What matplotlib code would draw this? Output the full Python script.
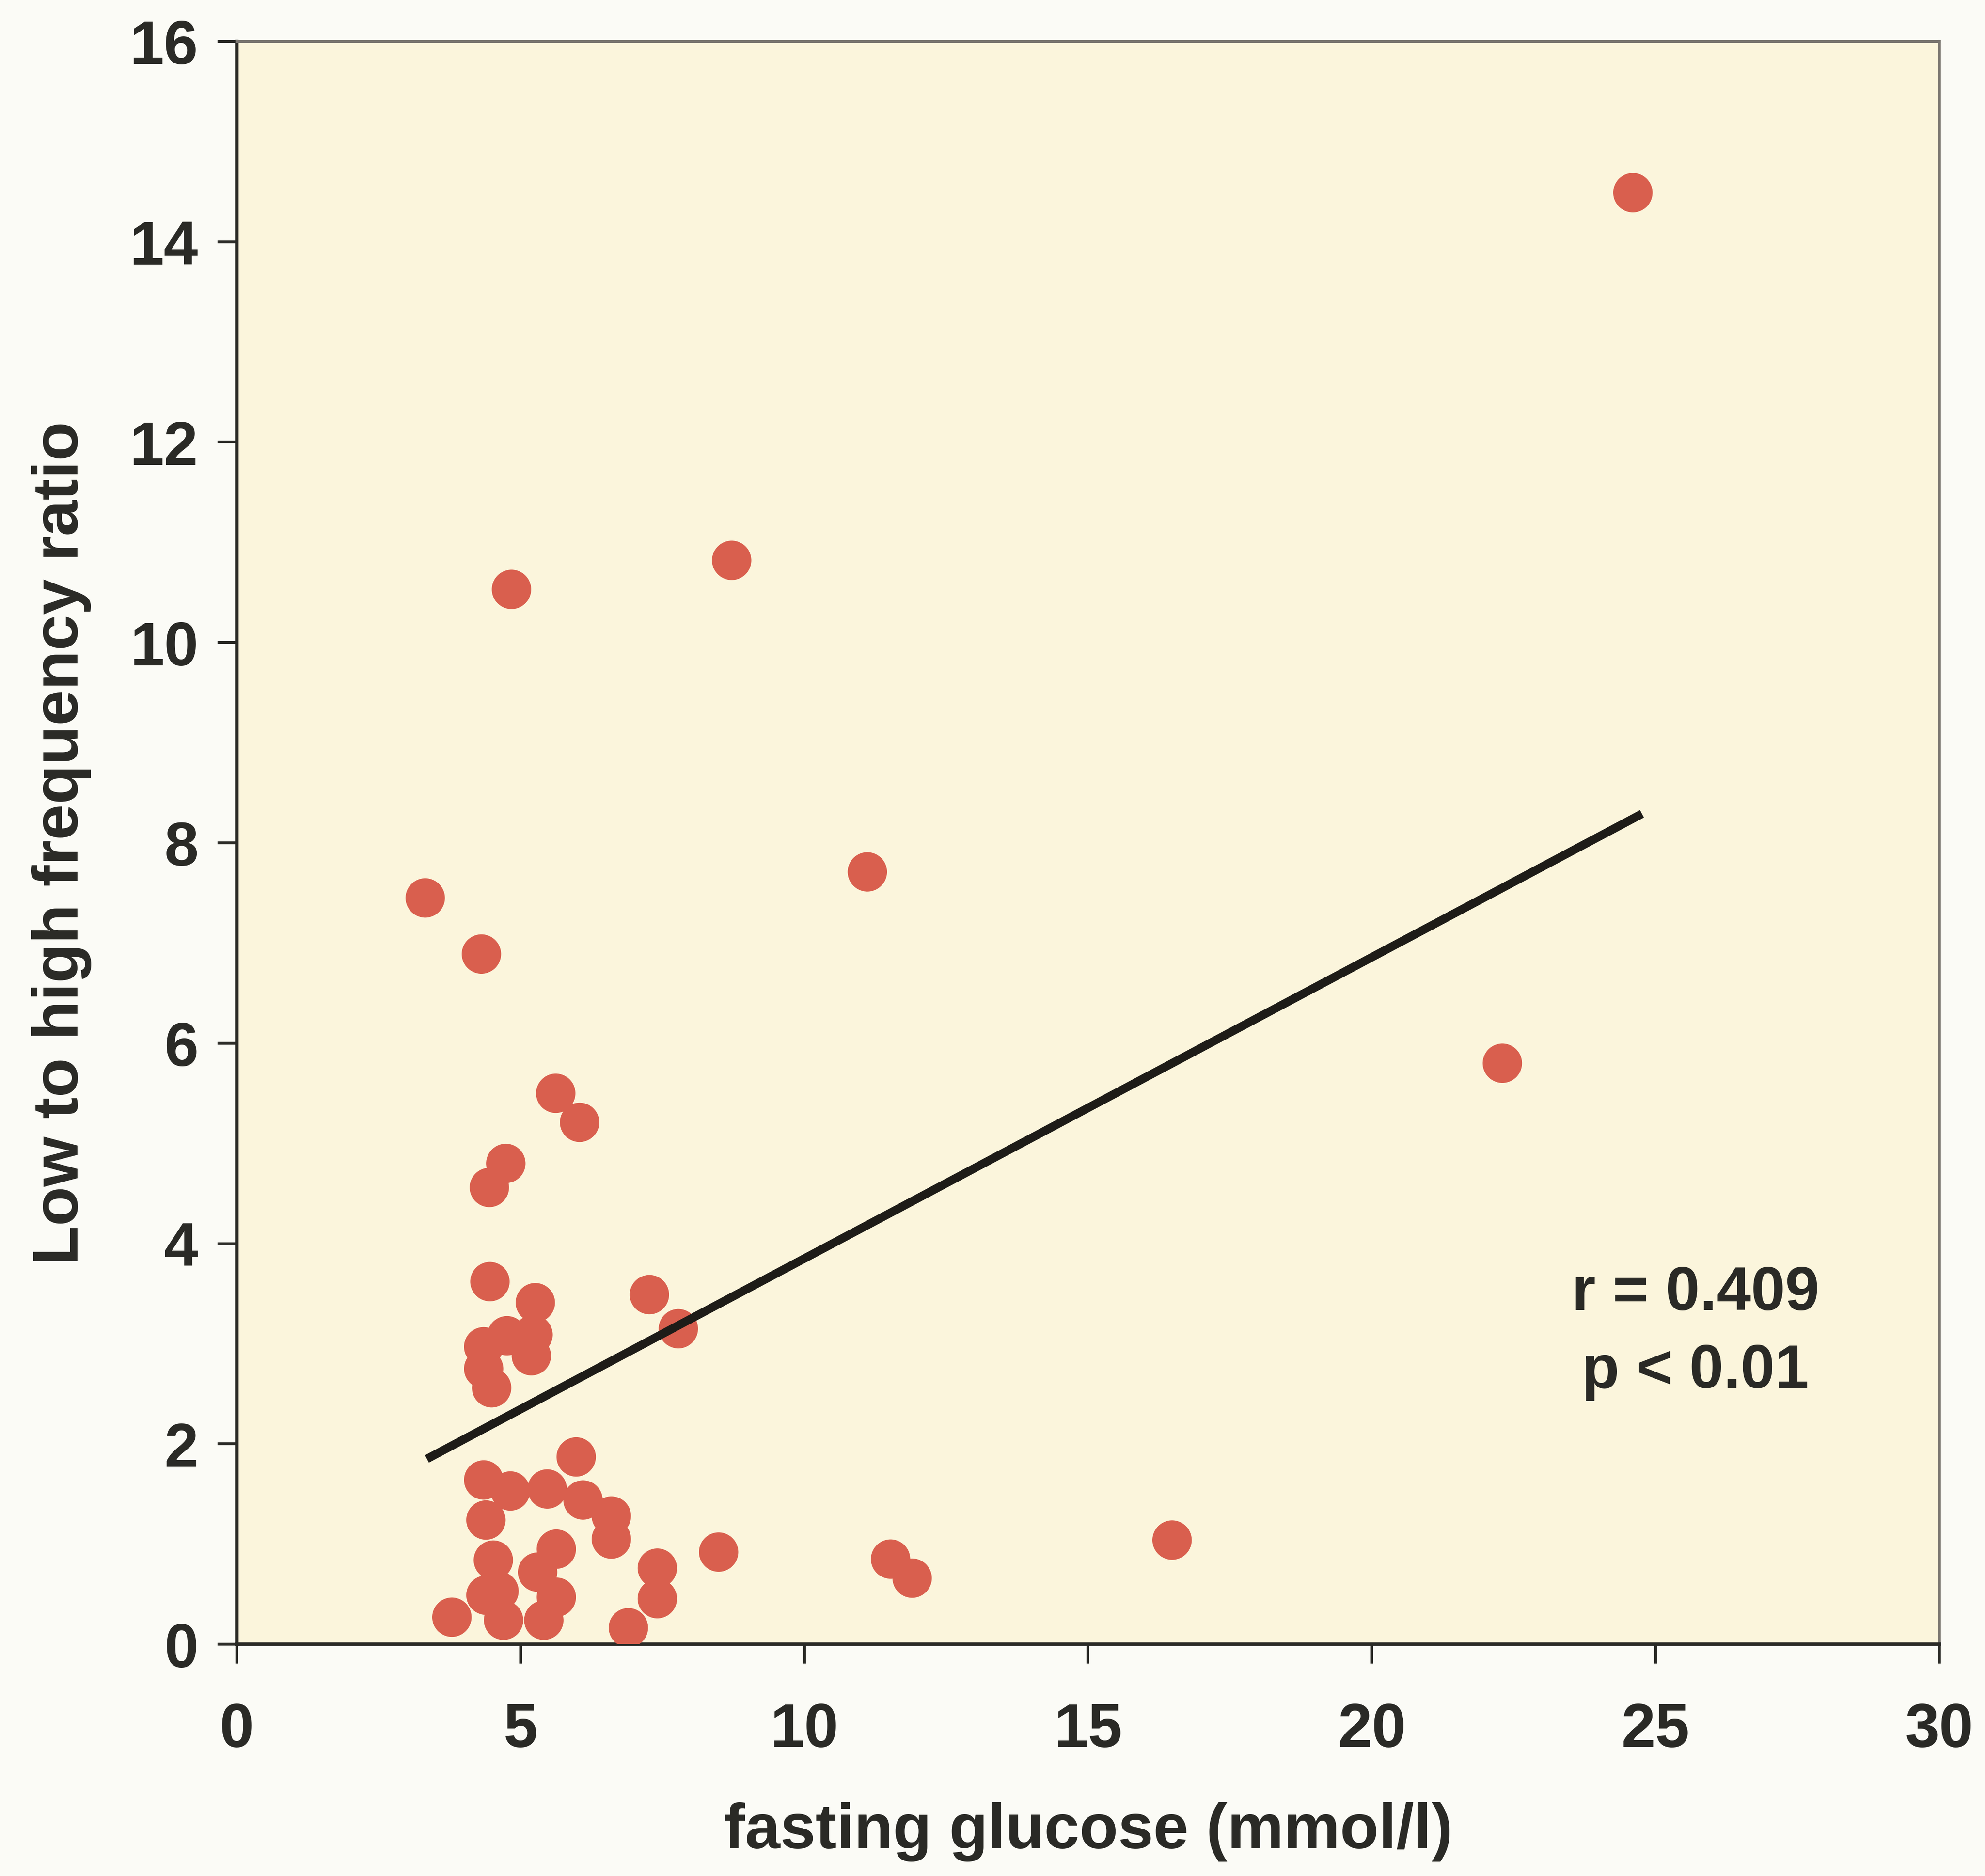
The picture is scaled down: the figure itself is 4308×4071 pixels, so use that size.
import matplotlib
matplotlib.use("Agg")
import matplotlib.pyplot as plt

# fasting glucose (mmol/l) vs LF/HF ratio
glucose = [
    24.6, 4.84, 8.72, 11.11, 3.32, 4.31, 22.3, 16.48, 11.52, 11.9,
    5.62, 6.04, 4.74, 4.45, 4.46, 5.26, 7.27, 7.78,
    4.35, 4.35, 4.49, 4.76, 5.22, 5.19,
    5.98, 4.35, 4.82, 4.39, 5.47, 6.10, 6.60, 6.60, 4.52, 5.63,
    5.30, 4.39, 4.62, 3.79, 4.70, 5.41, 5.63, 6.90,
    8.49, 7.41, 7.41,
]
lf_hf = [
    14.49, 10.53, 10.82, 7.71, 7.45, 6.89, 5.80, 1.04, 0.85, 0.66,
    5.50, 5.21, 4.80, 4.56, 3.62, 3.41, 3.49, 3.15,
    2.97, 2.75, 2.56, 3.08, 3.09, 2.88,
    1.87, 1.64, 1.53, 1.24, 1.55, 1.44, 1.28, 1.05, 0.84, 0.95,
    0.72, 0.49, 0.53, 0.27, 0.24, 0.24, 0.47, 0.165,
    0.92, 0.76, 0.455,
]

# regression line end points
fit_x = [3.35, 24.76]
fit_y = [1.85, 8.29]

xticks = [0, 5, 10, 15, 20, 25, 30]
yticks = [0, 2, 4, 6, 8, 10, 12, 14, 16]

plt.rcParams["font.family"] = ["Liberation Sans", "DejaVu Sans"]
plt.rcParams["font.weight"] = "bold"

fig = plt.figure(figsize=(14.36, 13.573), dpi=300, facecolor="#fbfbf6")
ax = fig.add_axes([0.1193, 0.1235, 0.8577, 0.8542])
ax.set_facecolor("#fbf5dc")

ax.scatter(glucose, lf_hf, s=20.5**2, color="#d95f4e", edgecolors="none", zorder=3)
ax.plot(fit_x, fit_y, color="#1e1c18", lw=4.4, solid_capstyle="butt", zorder=4)

ax.text(25.7, 3.5, "r = 0.409", ha="center", va="center", fontsize=32,
        fontweight="bold", color="#2a2a26")
ax.text(25.7, 2.72, "p < 0.01", ha="center", va="center", fontsize=32,
        fontweight="bold", color="#2a2a26")

ax.set_xlim(0, 30)
ax.set_ylim(0, 16)
ax.set_xticks(xticks)
ax.set_yticks(yticks)
ax.tick_params(axis="both", direction="out", length=10, width=1.5,
               labelsize=32, colors="#2a2a26", pad=10)
ax.tick_params(axis="x", pad=20)
for lab in ax.get_xticklabels() + ax.get_yticklabels():
    lab.set_fontweight("bold")

for side in ["left", "bottom"]:
    ax.spines[side].set_color("#2a2a26")
    ax.spines[side].set_linewidth(1.8)
for side in ["top", "right"]:
    ax.spines[side].set_color("#7a7670")
    ax.spines[side].set_linewidth(1.5)

ax.set_xlabel("fasting glucose (mmol/l)", fontsize=33, fontweight="bold",
              color="#2a2a26", labelpad=22)
ax.set_ylabel("Low to high frequency ratio", fontsize=33.5, fontweight="bold",
              color="#2a2a26", labelpad=20)

fig.savefig("out.png", dpi=300, facecolor=fig.get_facecolor())
